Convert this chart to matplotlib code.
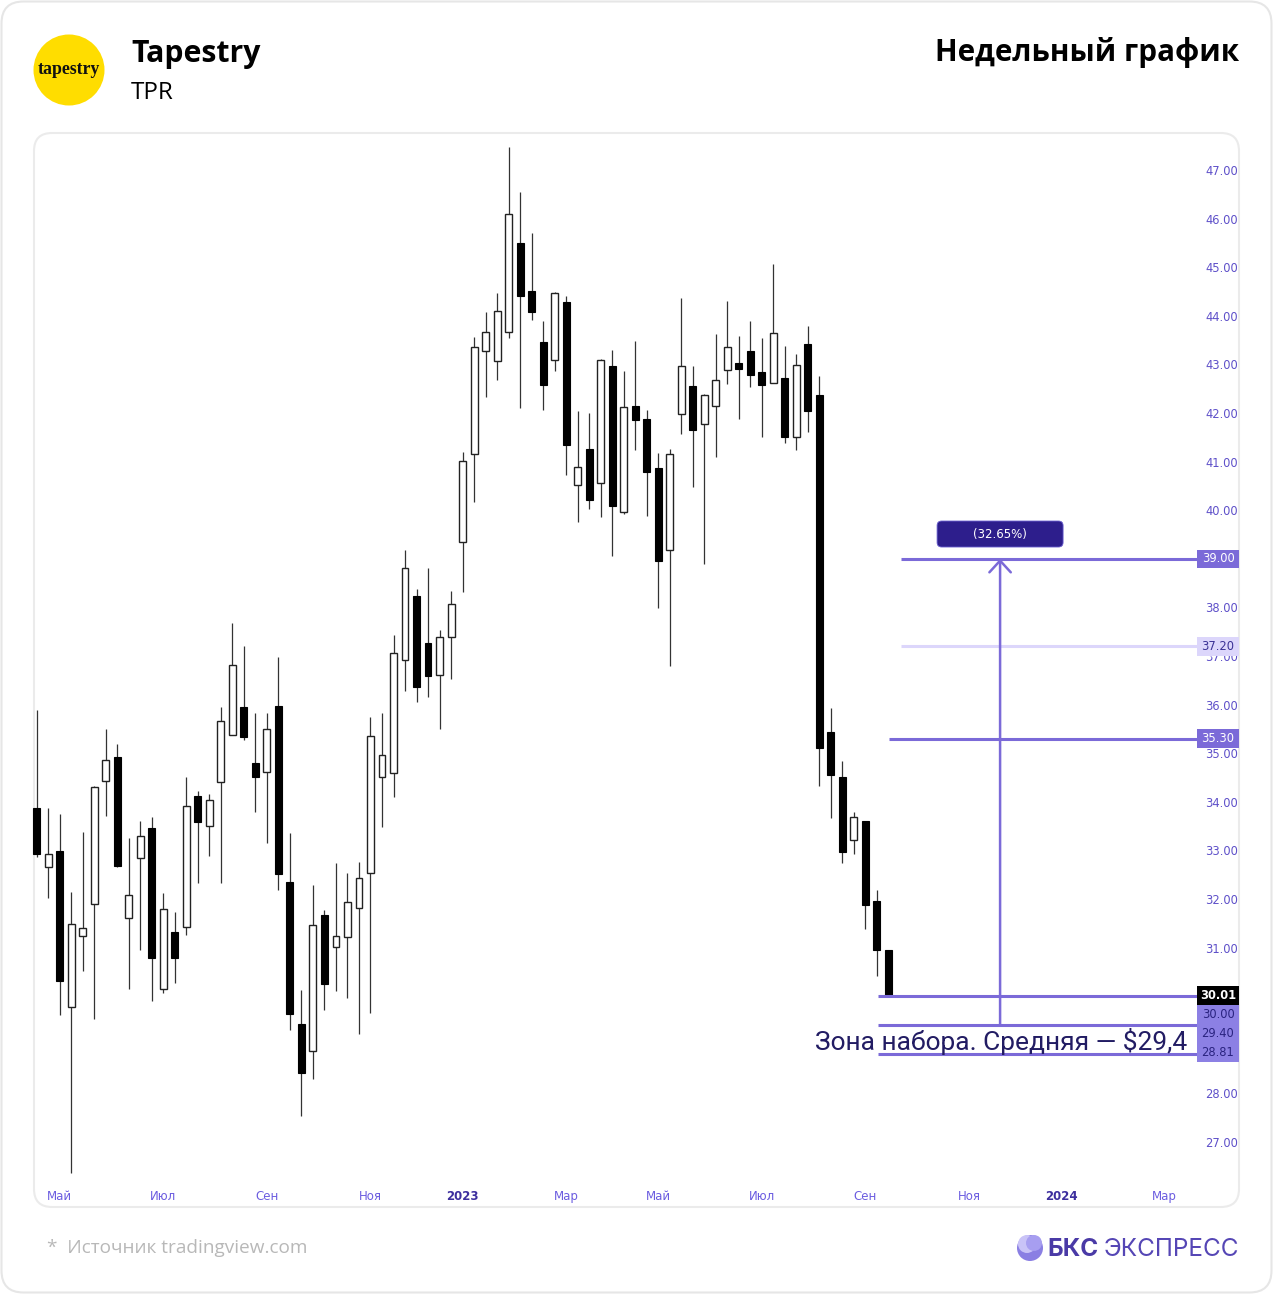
#!/usr/bin/env python3
"""
TPR недельный график: свечи + уровни зоны набора
"""

import numpy as np
import pandas as pd
import matplotlib
matplotlib.use("Agg")
import matplotlib.pyplot as plt
from matplotlib.patches import FancyBboxPatch, Rectangle, Circle
import matplotlib.transforms as mtransforms

# данные (недельные свечи, с 18.04.2022)
start_week = "2022-04-18"
opens = [33.87, 32.66, 32.98, 29.77, 31.24, 31.90, 34.42, 34.93, 31.61, 32.84,
         33.46, 30.14, 31.33, 31.42, 34.12, 33.51, 34.40, 35.38, 35.96, 34.80,
         34.61, 35.98, 32.36, 29.43, 28.87, 31.68, 31.01, 31.22, 31.81, 32.54,
         34.51, 34.60, 36.92, 38.23, 37.27, 36.60, 37.40, 39.34, 41.16, 43.28,
         43.08, 43.67, 45.49, 44.51, 43.46, 43.10, 44.28, 40.51, 41.25, 40.55,
         42.97, 39.97, 42.15, 41.88, 40.86, 39.19, 41.98, 42.56, 41.77, 42.14,
         42.88, 43.02, 43.28, 42.84, 42.62, 42.73, 41.50, 43.43, 42.38, 35.43,
         34.50, 33.21, 33.61, 31.96, 30.95]
highs = [35.89, 33.87, 33.74, 32.15, 33.37, 34.33, 35.50, 35.18, 33.26, 33.60,
         33.69, 32.12, 31.74, 34.51, 34.22, 34.16, 35.96, 37.68, 37.20, 35.83,
         35.83, 36.97, 33.35, 30.12, 32.28, 31.78, 32.74, 32.53, 32.77, 35.75,
         35.82, 37.44, 39.19, 38.38, 38.82, 37.53, 38.34, 41.19, 43.57, 44.07,
         44.46, 47.47, 46.54, 45.70, 43.89, 44.48, 44.41, 42.04, 41.99, 43.12,
         43.30, 42.86, 43.48, 42.06, 41.17, 41.25, 44.37, 42.97, 42.40, 43.62,
         44.30, 43.59, 43.89, 43.55, 45.06, 43.37, 43.21, 43.78, 42.77, 35.92,
         34.84, 33.80, 33.61, 32.19, 30.95]
lows = [32.86, 32.02, 29.61, 26.37, 30.52, 29.53, 33.70, 32.66, 30.14, 30.96,
        29.91, 30.06, 30.27, 31.25, 32.32, 32.88, 32.32, 35.38, 35.28, 33.80,
        33.15, 32.18, 29.30, 27.54, 28.30, 29.72, 30.10, 29.96, 29.22, 29.65,
        33.48, 34.09, 36.27, 36.06, 36.16, 35.50, 36.52, 38.32, 40.16, 42.32,
        42.67, 43.55, 42.11, 43.92, 42.07, 42.87, 40.72, 39.75, 40.02, 39.87,
        39.06, 39.92, 41.24, 39.89, 37.99, 36.80, 41.56, 40.48, 38.89, 41.10,
        42.59, 41.88, 42.54, 41.51, 42.62, 41.38, 41.24, 41.60, 34.33, 33.66,
        32.75, 32.93, 31.39, 30.42, 30.01]
closes = [32.92, 32.92, 30.31, 31.48, 31.40, 34.31, 34.86, 32.68, 32.09, 33.30,
          30.79, 31.79, 30.78, 33.92, 33.59, 34.04, 35.66, 36.81, 35.34, 34.51,
          35.50, 32.52, 29.63, 28.42, 31.47, 30.25, 31.24, 31.93, 32.43, 35.35,
          34.97, 37.06, 38.81, 36.37, 36.58, 37.40, 38.06, 41.02, 43.36, 43.67,
          44.09, 46.09, 44.41, 44.08, 42.57, 44.46, 41.34, 40.88, 40.21, 43.09,
          40.09, 42.12, 41.86, 40.79, 38.95, 41.16, 42.97, 41.65, 42.37, 42.67,
          43.36, 42.90, 42.78, 42.57, 43.64, 41.51, 42.99, 42.04, 35.11, 34.55,
          32.97, 33.68, 31.88, 30.95, 30.01]

# уровни
target_level = 39.00
mid_level = 37.20
resist_level = 35.30
last_price = 30.01
zone_top = 29.40
zone_bottom = 28.81
# 29, 30 и 39 закрыты метками уровней
y_ticks = [27, 28, 31, 32, 33, 34, 35, 36, 37, 38, 40, 41, 42, 43, 44, 45, 46, 47]
block_values = [30.00, zone_top, zone_bottom]

month_names = ["Янв", "Фев", "Мар", "Апр", "Май", "Июн",
               "Июл", "Авг", "Сен", "Окт", "Ноя", "Дек"]

# цвета
PURPLE = "#7b6ad8"
LAVENDER = "#dcd6fb"
TICK_COLOR = "#5e50c9"
NAVY = "#221c63"

W, H = 1273, 1294
fig = plt.figure(figsize=(W / 100, H / 100), dpi=100)

# фон / карточка (пиксельные координаты)
bg = fig.add_axes([0, 0, 1, 1])
bg.set_xlim(0, W)
bg.set_ylim(H, 0)
bg.axis("off")
bg.add_patch(FancyBboxPatch((1.5, 1.5), W - 3, H - 3,
                            boxstyle="round,pad=0,rounding_size=22",
                            fc="white", ec="#e6e6e6", lw=1.5))
bg.add_patch(FancyBboxPatch((34, 133), 1205, 1074,
                            boxstyle="round,pad=0,rounding_size=18",
                            fc="white", ec="#ebebeb", lw=1.5))

# шапка
bg.add_patch(Circle((69, 70), 35.5, fc="#ffdd00", ec="none"))
bg.text(69, 70, "tapestry", ha="center", va="center", fontsize=12.8,
        fontweight="bold", family="Liberation Serif", color="#111111")
bg.text(131, 54, "Tapestry", ha="left", va="center", fontsize=21.8,
        fontweight="bold", family="Open Sans", color="black")
bg.text(131, 93, "TPR", ha="left", va="center", fontsize=17.5,
        family="Open Sans", color="black")
bg.text(1239, 52, "Недельный график", ha="right", va="center", fontsize=21.3,
        fontweight="bold", family="Open Sans", color="black")

# подвал
bg.text(47, 1248, "*  Источник tradingview.com", ha="left", va="center",
        fontsize=13.7, family="Open Sans", color="#b8b8b8")
bg.add_patch(Circle((1030, 1248), 13, fc="#8a7fe3", ec="none"))
bg.add_patch(Circle((1027, 1244), 9, fc="#c9c3f7", ec="none"))
bg.add_patch(Circle((1034, 1243), 8, fc="#a79ef0", ec="none"))
bg.text(1047, 1249, "БКС", ha="left", va="center", fontsize=17.5,
        fontweight="bold", family="Inter", color="#4a3aa6")
bg.text(1239, 1249, "ЭКСПРЕСС", ha="right", va="center", fontsize=17.5,
        family="Inter", color="#5546b5")

# основной график
PX_X0, PX_STEP = 36.7, 11.51     # пиксель первой свечи, шаг
PX_Y47, PX_PER_USD = 170, 48.6    # пиксель уровня 47.00, пикселей на $1
L, R, T, B = 30, 1197, 135, 1183
ax = fig.add_axes([L / W, 1 - B / H, (R - L) / W, (B - T) / H])
ax.set_facecolor("none")
ax.set_xlim((L - PX_X0) / PX_STEP, (R - PX_X0) / PX_STEP)
ax.set_ylim(47 - (B - PX_Y47) / PX_PER_USD, 47 - (T - PX_Y47) / PX_PER_USD)
for s in ax.spines.values():
    s.set_visible(False)

o = np.array(opens)
h = np.array(highs)
l = np.array(lows)
c = np.array(closes)
x = np.arange(len(o))
up = c >= o

ax.vlines(x, l, h, color="#333333", lw=0.9, zorder=2)
body_bottom = np.minimum(o, c)
body_h = np.maximum(np.abs(c - o), 0.04)
ax.bar(x[up], body_h[up], bottom=body_bottom[up], width=0.6,
       color="white", edgecolor="#222222", lw=1.0, zorder=3)
ax.bar(x[~up], body_h[~up], bottom=body_bottom[~up], width=0.6,
       color="black", edgecolor="black", lw=0.8, zorder=3)

# ось X: первые недели нечётных месяцев
weeks = pd.date_range(start_week, periods=102, freq="W-MON")
tick_pos, tick_lab, tick_year = [], [], []
prev_month = None
for i, d in enumerate(weeks):
    if d.month != prev_month and d.month % 2 == 1 and i > 0:
        tick_pos.append(i)
        tick_lab.append(str(d.year) if d.month == 1 else month_names[d.month - 1])
        tick_year.append(d.month == 1)
    prev_month = d.month
ax.set_xticks(tick_pos)
ax.set_xticklabels(tick_lab)
for lab, is_year in zip(ax.get_xticklabels(), tick_year):
    lab.set_fontsize(8.5)
    if is_year:
        lab.set_fontweight("bold")
        lab.set_color("#3d2f9e")
    else:
        lab.set_color("#6b5ce0")
ax.tick_params(axis="x", length=0, pad=5)

# ось Y справа
ax.yaxis.tick_right()
ax.set_yticks(y_ticks)
ax.set_yticklabels([f"{v:.2f}" for v in y_ticks])
ax.tick_params(axis="y", length=0, pad=6, labelsize=8.3, labelcolor=TICK_COLOR)

# горизонтальные уровни
xr = ax.get_xlim()[1]
ax.hlines(target_level, 75.1, xr, color=PURPLE, lw=2.2, zorder=4)
ax.hlines(mid_level, 75.1, xr, color=LAVENDER, lw=2.2, zorder=4)
ax.hlines(resist_level, 74.05, xr, color=PURPLE, lw=2.2, zorder=4)
for lvl in (last_price, zone_top, zone_bottom):
    ax.hlines(lvl, 73.1, xr, color=PURPLE, lw=2.2, zorder=4)

# стрелка от зоны до цели
arrow_x = 83.7
ax.annotate("", xy=(arrow_x, target_level), xytext=(arrow_x, zone_top),
            arrowprops=dict(arrowstyle="->,head_length=0.6,head_width=0.55",
                            color=PURPLE, lw=1.8, shrinkA=0, shrinkB=0,
                            mutation_scale=14), zorder=5)
pct = (target_level / zone_top - 1) * 100
bw, bh = 126 / PX_STEP, 26 / PX_PER_USD
by = target_level + 0.51
ax.add_patch(FancyBboxPatch((arrow_x - bw / 2, by - bh / 2), bw, bh,
                            boxstyle="round,pad=0,rounding_size=0.4",
                            mutation_aspect=PX_STEP / PX_PER_USD,
                            fc="#2d1e8c", ec="#6a5fd0", lw=0.6, zorder=6))
ax.text(arrow_x, by, f"({pct:.2f}%)", ha="center", va="center",
        fontsize=8.5, color="white", zorder=7)

# подпись зоны
ax.text(100.0, (zone_top + zone_bottom) / 2 - 0.03, "Зона набора. Средняя — $29,4",
        ha="right", va="center", fontsize=19, family="Roboto", color=NAVY, zorder=6)

# метки уровней на оси
trans = mtransforms.blended_transform_factory(ax.transAxes, ax.transData)
box_w = (1239 - R) / (R - L)
lab_h = 18.5 / PX_PER_USD


def level_label(y_center, text, fc, tc, weight="normal"):
    ax.add_patch(Rectangle((1.0, y_center - lab_h / 2), box_w, lab_h,
                           transform=trans, fc=fc, ec="none",
                           clip_on=False, zorder=8))
    ax.text(1.0 + box_w / 2, y_center, text, transform=trans, ha="center",
            va="center", fontsize=8.3, color=tc, fontweight=weight,
            clip_on=False, zorder=9)


level_label(target_level, f"{target_level:.2f}", PURPLE, "white")
level_label(mid_level, f"{mid_level:.2f}", LAVENDER, "#3b3296")
level_label(resist_level, f"{resist_level:.2f}", PURPLE, "white")

# блок 30.00 / 29.40 / 28.81 под текущей ценой
step = 19.1 / PX_PER_USD
block_top = last_price - lab_h / 2
ax.add_patch(Rectangle((1.0, block_top - 3 * step), box_w, 3 * step,
                       transform=trans, fc="#8c80e4", ec="none",
                       clip_on=False, zorder=8))
for k, val in enumerate(block_values):
    ax.text(1.0 + box_w / 2, block_top - (k + 0.5) * step, f"{val:.2f}",
            transform=trans, ha="center", va="center", fontsize=8.3,
            color="#2a2380", clip_on=False, zorder=9)
level_label(last_price, f"{last_price:.2f}", "black", "white", weight="bold")

plt.savefig("out.png", dpi=100)
